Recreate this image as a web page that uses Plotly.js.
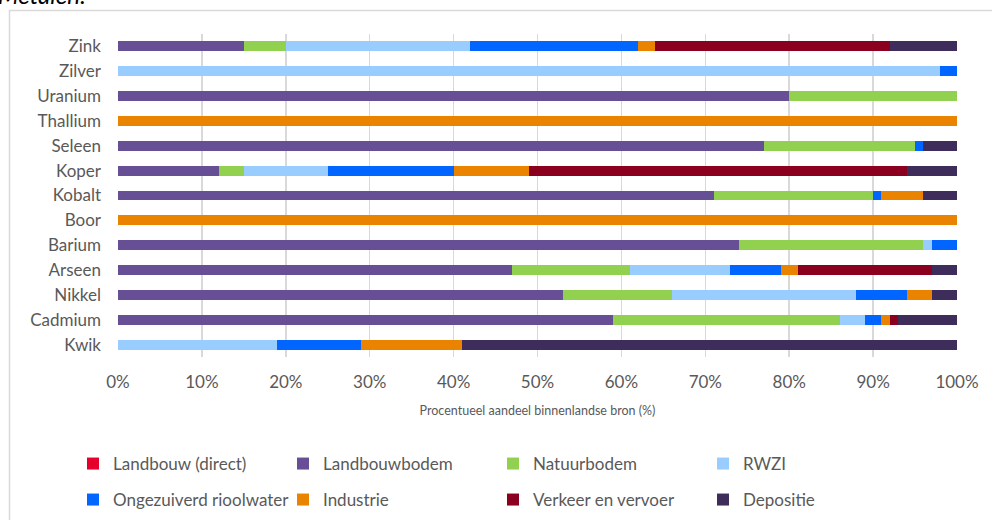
<!DOCTYPE html>
<html>
<head>
<meta charset="utf-8">
<script src="https://cdn.plot.ly/plotly-3.0.1.min.js"></script>
<style>
  html, body { margin: 0; padding: 0; background: #ffffff; }
  #chart { width: 992px; height: 520px; }
</style>
</head>
<body>
<div id="chart"></div>
<script>
const categories = ["Zink", "Zilver", "Uranium", "Thallium", "Seleen", "Koper", "Kobalt", "Boor", "Barium", "Arseen", "Nikkel", "Cadmium", "Kwik"];

const landbouwDirect   = [0,  0,  0,  0,   0,  0,  0,  0,   0,  0,  0,  0,  0];
const landbouwbodem    = [15, 0,  80, 0,   77, 12, 71, 0,   74, 47, 53, 59, 0];
const natuurbodem      = [5,  0,  20, 0,   18, 3,  19, 0,   22, 14, 13, 27, 0];
const rwzi             = [22, 98, 0,  0,   0,  10, 0,  0,   1,  12, 22, 3,  19];
const ongezuiverd      = [20, 2,  0,  0,   1,  15, 1,  0,   3,  6,  6,  2,  10];
const industrie        = [2,  0,  0,  100, 0,  9,  5,  100, 0,  2,  3,  1,  12];
const verkeer          = [28, 0,  0,  0,   0,  45, 0,  0,   0,  16, 0,  1,  0];
const depositie        = [8,  0,  0,  0,   4,  6,  4,  0,   0,  3,  3,  7,  59];

const tickVals   = [0, 10, 20, 30, 40, 50, 60, 70, 80, 90, 100];
const tickLabels = ["0%", "10%", "20%", "30%", "40%", "50%", "60%", "70%", "80%", "90%", "100%"];

const seriesNames  = ["Landbouw (direct)", "Landbouwbodem", "Natuurbodem", "RWZI", "Ongezuiverd rioolwater", "Industrie", "Verkeer en vervoer", "Depositie"];
const seriesData   = [landbouwDirect, landbouwbodem, natuurbodem, rwzi, ongezuiverd, industrie, verkeer, depositie];
const seriesColors = ["#E4002B", "#674F96", "#92D050", "#99CCFF", "#0066FF", "#E98300", "#8A001E", "#3E2D5B"];

const textColor = "#595959";
const fontFam = "Lato, 'Open Sans', sans-serif";

const traces = seriesNames.map((name, i) => ({
  type: "bar",
  orientation: "h",
  name: name,
  x: seriesData[i],
  y: categories,
  marker: { color: seriesColors[i], line: { width: 0 } },
  legend: i < 4 ? "legend" : "legend2",
  hoverinfo: "x+y+name"
}));

// plot area in pixels: x 118..957, y 34..357
const PL = 118, PR = 957, PT = 34, PB = 357;
const pw = PR - PL, ph = PB - PT;
const px = v => (v - PL) / pw;
const py = v => (PB - v) / ph;

const layout = {
  width: 992,
  height: 520,
  paper_bgcolor: "#ffffff",
  plot_bgcolor: "#ffffff",
  margin: { l: PL, r: 992 - PR, t: PT, b: 520 - PB, pad: 0, autoexpand: false },
  barmode: "stack",
  bargap: 0.6,
  font: { family: fontFam, color: textColor, size: 17 },
  xaxis: {
    range: [0, 100],
    tickvals: tickVals,
    ticktext: tickLabels,
    showgrid: true,
    gridcolor: "#d9d9d9",
    gridwidth: 1.5,
    zeroline: false,
    showline: false,
    ticks: "",
    automargin: false,
    ticklabelstandoff: 13,
    tickfont: { size: 17, color: textColor, family: fontFam },
    title: {
      text: "Procentueel aandeel binnenlandse bron (%)",
      font: { size: 12.5, color: textColor, family: fontFam },
      standoff: 15
    },
    fixedrange: true
  },
  yaxis: {
    type: "category",
    autorange: "reversed",
    showgrid: false,
    zeroline: false,
    showline: false,
    ticks: "",
    automargin: false,
    ticklabelstandoff: 16,
    tickfont: { size: 17, color: textColor, family: fontFam },
    fixedrange: true
  },
  showlegend: true,
  legend: {
    orientation: "h",
    x: px(73), xanchor: "left",
    y: py(446), yanchor: "top",
    entrywidth: 165, entrywidthmode: "pixels",
    itemwidth: 30,
    traceorder: "normal",
    font: { size: 17, color: textColor, family: fontFam },
    bgcolor: "rgba(0,0,0,0)"
  },
  legend2: {
    orientation: "h",
    x: px(73), xanchor: "left",
    y: py(482), yanchor: "top",
    entrywidth: 165, entrywidthmode: "pixels",
    itemwidth: 30,
    traceorder: "normal",
    font: { size: 17, color: textColor, family: fontFam },
    bgcolor: "rgba(0,0,0,0)"
  },
  shapes: [
    {
      type: "path",
      xref: "paper", yref: "paper",
      path: "M " + px(9.5) + "," + py(540) + " L " + px(9.5) + "," + py(10.5) + " L " + px(1000) + "," + py(10.5),
      line: { color: "#d9d9d9", width: 1.5 },
      layer: "below"
    }
  ],
  annotations: [
    {
      text: "<i>Metalen:</i>",
      xref: "paper", yref: "paper",
      x: px(-4), xanchor: "left",
      y: py(11), yanchor: "bottom",
      showarrow: false,
      font: { size: 24, color: "#000000", family: fontFam }
    }
  ]
};

Plotly.newPlot("chart", traces, layout, { displayModeBar: false, staticPlot: true });
</script>
</body>
</html>
